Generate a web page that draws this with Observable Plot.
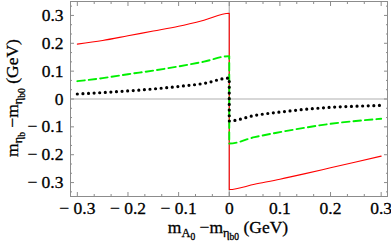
<!DOCTYPE html>
<html><head><meta charset="utf-8">
<script src="https://cdn.jsdelivr.net/npm/d3@7"></script>
<script src="https://cdn.jsdelivr.net/npm/@observablehq/plot@0.6"></script>
<style>body{margin:0;background:#fff} svg{display:block} svg text{font-family:'Liberation Serif','Times New Roman',serif;stroke:#000;stroke-width:0.3px}</style>
</head><body><div id="chart"></div>
<script>
const xValues     = [-0.3, -0.25, -0.2, -0.15, -0.1, -0.05, 0, 0, 0.05, 0.1, 0.15, 0.2, 0.25, 0.3];
const redValues   = [0.197, 0.210, 0.227, 0.244, 0.261, 0.283, 0.308, -0.325, -0.306, -0.288, -0.268, -0.247, -0.226, -0.205];
const greenValues = [0.064, 0.075, 0.089, 0.102, 0.117, 0.134, 0.154, -0.160, -0.137, -0.119, -0.103, -0.089, -0.079, -0.071];
const blackValues = [0.018, 0.023, 0.029, 0.036, 0.045, 0.056, 0.075, -0.079, -0.059, -0.047, -0.037, -0.030, -0.026, -0.023];
const xTicks = [-0.3, -0.2, -0.1, 0, 0.1, 0.2, 0.3];
const yTicks = [-0.3, -0.2, -0.1, 0, 0.1, 0.2, 0.3];
const xMinor = d3.range(-9, 10).map(i => i / 30).filter(v => !xTicks.some(t => Math.abs(t - v) < 1e-9));
const yMinor = d3.range(-10, 11).map(i => i / 30).filter(v => !yTicks.some(t => Math.abs(t - v) < 1e-9));

const mk = vals => xValues.map((x, i) => ({x, y: vals[i]}));
const fmt = d => d === 0 ? "0" : (d < 0 ? "\u2212\u2005" : "") + Math.abs(d).toFixed(1);
const frameColor = "#8c8c8c";
const FONT = "'Liberation Serif', 'Times New Roman', serif";

const chart = Plot.plot({
  width: 391, height: 243,
  marginLeft: 70, marginRight: 4, marginTop: 1, marginBottom: 47,
  style: {fontFamily: FONT, fontSize: "17.5px", color: "black", background: "white"},
  x: {domain: [-0.3135, 0.3125]},
  y: {domain: [-0.35, 0.35]},
  marks: [
    Plot.ruleX([0], {stroke: "#b0b0b0", strokeWidth: 1.2}),
    Plot.ruleY([0], {stroke: "#b0b0b0", strokeWidth: 1.2}),
    Plot.frame({stroke: frameColor}),
    Plot.axisX(xTicks, {anchor: "bottom", tickSize: 0, tickPadding: 5, tickFormat: fmt, label: null, fontSize: 17.5}),
    Plot.axisY(yTicks, {anchor: "left", tickSize: 0, tickPadding: 7, tickFormat: fmt, label: null, fontSize: 17.5}),
    Plot.axisX(xTicks, {anchor: "bottom", tickSize: -4, tickFormat: () => "", label: null, stroke: frameColor}),
    Plot.axisX(xTicks, {anchor: "top", tickSize: -4, tickFormat: () => "", label: null, stroke: frameColor}),
    Plot.axisY(yTicks, {anchor: "left", tickSize: -4, tickFormat: () => "", label: null, stroke: frameColor}),
    Plot.axisY(yTicks, {anchor: "right", tickSize: -4, tickFormat: () => "", label: null, stroke: frameColor}),
    Plot.axisX(xMinor, {anchor: "bottom", tickSize: -2, tickFormat: () => "", label: null, stroke: frameColor}),
    Plot.axisX(xMinor, {anchor: "top", tickSize: -2, tickFormat: () => "", label: null, stroke: frameColor}),
    Plot.axisY(yMinor, {anchor: "left", tickSize: -2, tickFormat: () => "", label: null, stroke: frameColor}),
    Plot.axisY(yMinor, {anchor: "right", tickSize: -2, tickFormat: () => "", label: null, stroke: frameColor}),
    Plot.line(mk(redValues), {x: "x", y: "y", stroke: "#ff0000", strokeWidth: 1.1, curve: "monotone-x"}),
    Plot.line(mk(greenValues), {x: "x", y: "y", stroke: "#00f000", strokeWidth: 1.9, strokeDasharray: "7.5,4", curve: "monotone-x"}),
    Plot.line(mk(blackValues), {x: "x", y: "y", stroke: "black", strokeWidth: 3.2, strokeDasharray: "0,5.6", strokeLinecap: "round", curve: "monotone-x"})
  ]
});
document.getElementById("chart").appendChild(chart);

const svg = d3.select(chart);
function addLabel(parts, x, y, rotate) {
  const sizes = [17.5, 12.5, 9.5], offs = [0, 4, 7];
  const t = svg.append("text")
    .attr("font-size", 17.5).attr("fill", "black")
    .attr("text-anchor", "middle").style("white-space", "pre")
    .attr("transform", `translate(${x},${y}) rotate(${rotate})`);
  let cur = 0;
  for (const p of parts) {
    t.append("tspan").attr("font-size", sizes[p.l]).attr("dy", offs[p.l] - offs[cur]).text(p.t);
    cur = p.l;
  }
}
addLabel([
  {t: "m", l: 0}, {t: "A", l: 1}, {t: "0", l: 2}, {t: " \u2212m", l: 0}, {t: "\u03b7", l: 1}, {t: "b0", l: 2}, {t: " (GeV)", l: 0}
], 228, 233, 0);
addLabel([
  {t: "m", l: 0}, {t: "\u03b7", l: 1}, {t: "b", l: 2}, {t: " \u2212m", l: 0}, {t: "\u03b7", l: 1}, {t: "b0", l: 2}, {t: " (GeV)", l: 0}
], 18, 98, -90);
</script>
</body></html>
